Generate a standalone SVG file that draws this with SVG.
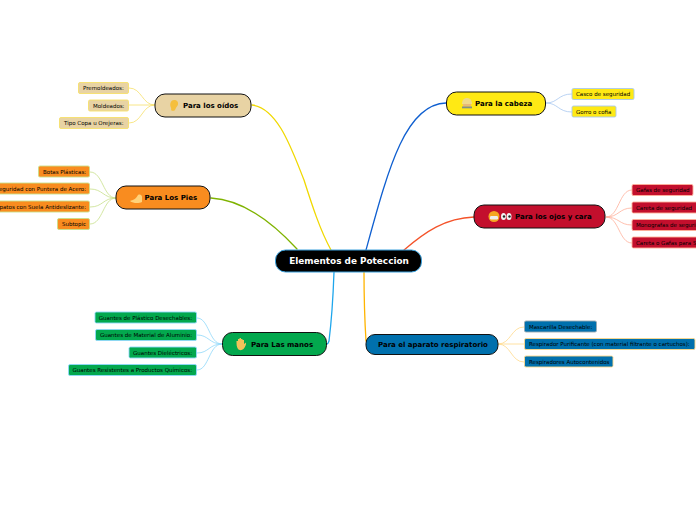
<svg xmlns="http://www.w3.org/2000/svg" width="696" height="520" viewBox="0 0 696 520">
<style>
text{font-family:"DejaVu Sans",sans-serif}
.m{font-size:7px;font-weight:700;fill:#000;dominant-baseline:central}
.s{font-size:5.5px;fill:#000;stroke:none;dominant-baseline:central}
.c{fill:none;stroke-width:1.3;stroke-linecap:round}
.l{fill:none;stroke-width:.8}
.n{stroke:#111;stroke-width:1}
.t{stroke-width:.9}
</style>
<rect width="696" height="520" fill="#fff"/>
<g id="connectors">
<path class="c" stroke="#f0d800" d="M252 105C278 108 292 150 304 180C312 205 320 230 331 250"/>
<path class="c" stroke="#7fb300" d="M211 198C245 200 275 225 297 249"/>
<path class="c" stroke="#0f5fd0" d="M446 103C405 104 388 170 366 250"/>
<path class="c" stroke="#f4532a" d="M474 217C445 218 425 232 404 250"/>
<path class="c" stroke="#1ea6ec" d="M334 272C333 300 331 325 329 341Q328 344 327 344"/>
<path class="c" stroke="#ffb400" d="M364 272C364 300 365 325 366 341"/>
<g stroke="#f6e06a"><path class="l" d="M155 105C142 105 142 88 129 88"/><path class="l" d="M155 105H129"/><path class="l" d="M155 105C142 105 142 123 129 123"/></g>
<g stroke="#c8e08a"><path class="l" d="M116 198C103 198 103 172 90 172"/><path class="l" d="M116 198C103 198 103 189 90 189"/><path class="l" d="M116 198C103 198 103 207 90 207"/><path class="l" d="M116 198C103 198 103 224 90 224"/></g>
<g stroke="#a8c8f0"><path class="l" d="M546 103C558 103 558 94 572 94"/><path class="l" d="M546 103C558 103 558 112 572 112"/></g>
<g stroke="#ffb09a"><path class="l" d="M606 217C619 217 619 190 632 190"/><path class="l" d="M606 217C619 217 619 208 632 208"/><path class="l" d="M606 217C619 217 619 225 632 225"/><path class="l" d="M606 217C619 217 619 243 632 243"/></g>
<g stroke="#8fd8fa"><path class="l" d="M222 344C209 344 209 318 197 318"/><path class="l" d="M222 344C209 344 209 335 197 335"/><path class="l" d="M222 344C209 344 209 353 197 353"/><path class="l" d="M222 344C209 344 209 370 197 370"/></g>
<g stroke="#ffd98a"><path class="l" d="M498 344C511 344 511 327 524 327"/><path class="l" d="M498 344H524"/><path class="l" d="M498 344C511 344 511 362 524 362"/></g>
</g>
<g id="central"><rect x="275.500" y="250" width="146" height="22" rx="10" fill="#000" stroke="#3aa0dc" stroke-width="1"/><text x="349" y="261" text-anchor="middle" style="font-size:8.9px;font-weight:700;fill:#fff;dominant-baseline:central">Elementos de Poteccion</text></g>
<g id="oidos"><rect class="n" x="155" y="94" width="96" height="23" rx="10" fill="#e8d3a4"/><path d="M174 100c3 0 4.500 2 4 4.500c-.5 2-2 2.500-2.500 4.500c-.5 2-3 2.500-4.500 1c.5-1 0-2-.5-3.500c-.8-3 .5-6.500 3.500-6.500z" fill="#f5bf3c"/><text class="m" x="183" y="105.500">Para los oídos</text></g>
<g id="pies"><rect class="n" x="116" y="186" width="94" height="23" rx="10" fill="#f98c1f"/><path d="M130 201c3-1 6-2 8-6c2-1 4 0 4 2v5c-3 1.500-9 1.500-12-1z" fill="#ffd27a"/><text class="m" x="144.500" y="198">Para Los Pies</text></g>
<g id="cabeza"><rect class="n" x="446.500" y="92" width="99" height="23" rx="10" fill="#ffe914"/><path d="M462 104c0-4 2-6 5-6s5 2 5 6z" fill="#efd98a"/><rect x="463" y="104" width="8" height="2.500" fill="#e8b878"/><rect x="462" y="106.500" width="10" height="1.800" fill="#7f8f8a"/><text class="m" x="475" y="103.500">Para la cabeza</text></g>
<g id="ojos"><rect class="n" x="474" y="205" width="131" height="23" rx="10" fill="#c30f2d"/><circle cx="494" cy="216.500" r="5.500" fill="#f5a623"/><rect x="490" y="216" width="8" height="3.500" rx="1.200" fill="#eee"/><ellipse cx="503.500" cy="216.500" rx="2.500" ry="3.500" fill="#f2f2f2"/><ellipse cx="509" cy="216.500" rx="2.500" ry="3.500" fill="#f2f2f2"/><circle cx="504" cy="216.500" r="1.200" fill="#222"/><circle cx="509.500" cy="216.500" r="1.200" fill="#222"/><text class="m" x="515" y="216.500">Para los ojos y cara</text></g>
<g id="manos"><rect class="n" x="222.500" y="332.500" width="104" height="23" rx="10" fill="#03a84e"/><path d="M238 349c-1.500-2-1.500-5-1.500-8h1.500v-2h1.500v-1h1.500v1h1.500v1h1.500v4l2-1.500c.5 2-1 4.500-2.500 6.500c-1.500 1.500-4.500 1.500-5.500 0z" fill="#f2c25a"/><text class="m" x="251" y="344.500">Para Las manos</text></g>
<g id="respiratorio"><rect class="n" x="366" y="334.500" width="132" height="20" rx="9" fill="#0070ad"/><text class="m" x="378" y="344.500">Para el aparato respiratorio</text></g>
<g id="t1" class="t" fill="#e8d3a4" stroke="#f6e06a"><rect x="78.500" y="82.500" width="50" height="11" rx="1.500"/><text class="s" x="83" y="88">Premoldeados:</text></g>
<g id="t2" class="t" fill="#e8d3a4" stroke="#f6e06a"><rect x="88.500" y="100" width="40" height="11" rx="1.500"/><text class="s" x="93" y="105.500">Moldeados:</text></g>
<g id="t3" class="t" fill="#e8d3a4" stroke="#f6e06a"><rect x="59.500" y="117.500" width="69" height="11" rx="1.500"/><text class="s" x="64" y="123">Tipo Copa u Orejeras:</text></g>
<g id="t4" class="t" fill="#f98c1f" stroke="#c8e08a"><rect x="38.500" y="166" width="51" height="11" rx="1.500"/><text class="s" x="43" y="172">Botas Plásticas:</text></g>
<g id="t5" class="t" fill="#f98c1f" stroke="#c8e08a"><rect x="-30" y="183" width="119.500" height="11" rx="1.500"/><text class="s" x="86" y="189" text-anchor="end">Botas de Seguridad con Puntera de Acero:</text></g>
<g id="t6" class="t" fill="#f98c1f" stroke="#c8e08a"><rect x="-30" y="201" width="119.500" height="11" rx="1.500"/><text class="s" x="86" y="207" text-anchor="end">Zapatos con Suela Antideslizante:</text></g>
<g id="t7" class="t" fill="#f98c1f" stroke="#c8e08a"><rect x="57.500" y="218.500" width="32" height="11" rx="1.500"/><text class="s" x="62" y="224">Subtopic</text></g>
<g id="t8" class="t" fill="#ffe914" stroke="#a8c8f0"><rect x="572" y="88.500" width="62" height="11" rx="1.500"/><text class="s" x="576" y="94">Casco de seguridad</text></g>
<g id="t9" class="t" fill="#ffe914" stroke="#a8c8f0"><rect x="572" y="106" width="44" height="11" rx="1.500"/><text class="s" x="576" y="112">Gorro o cofia</text></g>
<g id="t10" class="t" fill="#c30f2d" stroke="#ffb09a"><rect x="632" y="184.500" width="61" height="11" rx="1.500"/><text class="s" x="636" y="190">Gafas de seguridad</text></g>
<g id="t11" class="t" fill="#c30f2d" stroke="#ffb09a"><rect x="632" y="202" width="70" height="11" rx="1.500"/><text class="s" x="636" y="208">Careta de seguridad</text></g>
<g id="t12" class="t" fill="#c30f2d" stroke="#ffb09a"><rect x="632" y="219.500" width="70" height="11" rx="1.500"/><text class="s" x="636" y="225">Monografas de seguridad</text></g>
<g id="t13" class="t" fill="#c30f2d" stroke="#ffb09a"><rect x="632" y="237" width="70" height="11" rx="1.500"/><text class="s" x="636" y="243">Careta o Gafas para Soldadura</text></g>
<g id="t14" class="t" fill="#03a84e" stroke="#8fd8fa"><rect x="95" y="312" width="101.500" height="11" rx="1.500"/><text class="s" x="192" y="318" text-anchor="end">Guantes de Plástico Desechables:</text></g>
<g id="t15" class="t" fill="#03a84e" stroke="#8fd8fa"><rect x="95.500" y="329.500" width="101" height="11" rx="1.500"/><text class="s" x="192" y="335" text-anchor="end">Guantes de Material de Aluminio:</text></g>
<g id="t16" class="t" fill="#03a84e" stroke="#8fd8fa"><rect x="129" y="347" width="67.500" height="11" rx="1.500"/><text class="s" x="192" y="353" text-anchor="end">Guantes Dieléctricos:</text></g>
<g id="t17" class="t" fill="#03a84e" stroke="#8fd8fa"><rect x="68.500" y="364.500" width="128" height="11" rx="1.500"/><text class="s" x="192" y="370" text-anchor="end">Guantes Resistentes a Productos Químicos:</text></g>
<g id="t18" class="t" fill="#0070ad" stroke="#9aa8b0"><rect x="524.500" y="321" width="72" height="11" rx="1.500"/><text class="s" x="529" y="327">Mascarilla Desechable:</text></g>
<g id="t19" class="t" fill="#0070ad" stroke="#ffd98a"><rect x="524.500" y="338.500" width="170.500" height="11" rx="1.500"/><text class="s" x="529" y="344">Respirador Purificante (con material filtrante o cartuchos):</text></g>
<g id="t20" class="t" fill="#0070ad" stroke="#ffd98a"><rect x="524.500" y="356" width="88.500" height="11" rx="1.500"/><text class="s" x="529" y="362">Respiradores Autocontenidos</text></g>
</svg>
